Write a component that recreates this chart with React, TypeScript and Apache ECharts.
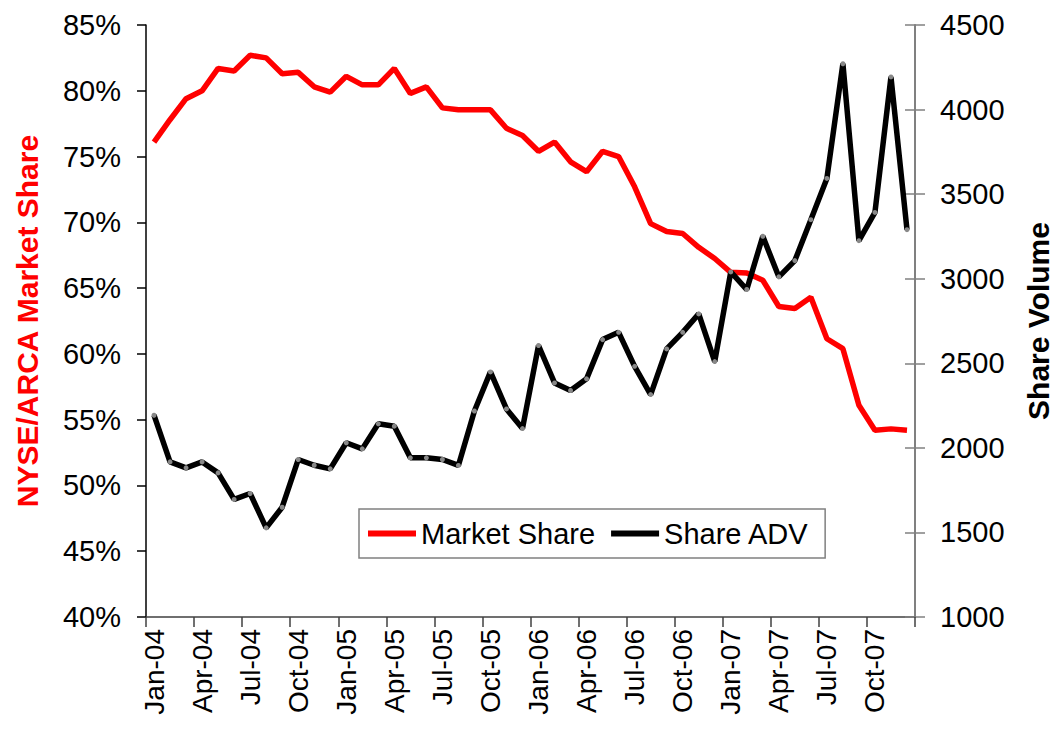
import React, { useEffect, useRef } from "react";
import * as echarts from "echarts";

const months: string[] = [
  "Jan-04", "Feb-04", "Mar-04", "Apr-04", "May-04", "Jun-04", "Jul-04", "Aug-04", "Sep-04", "Oct-04", "Nov-04", "Dec-04",
  "Jan-05", "Feb-05", "Mar-05", "Apr-05", "May-05", "Jun-05", "Jul-05", "Aug-05", "Sep-05", "Oct-05", "Nov-05", "Dec-05",
  "Jan-06", "Feb-06", "Mar-06", "Apr-06", "May-06", "Jun-06", "Jul-06", "Aug-06", "Sep-06", "Oct-06", "Nov-06", "Dec-06",
  "Jan-07", "Feb-07", "Mar-07", "Apr-07", "May-07", "Jun-07", "Jul-07", "Aug-07", "Sep-07", "Oct-07", "Nov-07", "Dec-07",
];

const marketShare: number[] = [
  76.1, 77.8, 79.4, 80.0, 81.7, 81.5, 82.7, 82.5, 81.3, 81.4, 80.3, 79.9,
  81.1, 80.45, 80.45, 81.7, 79.8, 80.3, 78.7, 78.55, 78.55, 78.55, 77.15, 76.6,
  75.4, 76.1, 74.6, 73.85, 75.4, 75.0, 72.7, 69.9, 69.3, 69.15, 68.1, 67.25,
  66.2, 66.15, 65.6, 63.6, 63.45, 64.3, 61.15, 60.4, 56.1, 54.2, 54.3, 54.2,
];

const shareADV: number[] = [
  2193, 1917, 1882, 1917, 1852, 1695, 1730, 1527, 1649, 1931, 1897, 1876,
  2030, 1994, 2142, 2128, 1941, 1941, 1931, 1896, 2218, 2449, 2230, 2114,
  2605, 2384, 2339, 2408, 2640, 2683, 2482, 2315, 2585, 2683, 2792, 2510,
  3040, 2936, 3251, 3011, 3107, 3349, 3593, 4271, 3225, 3392, 4193, 3290,
];

const seriesNames: string[] = ["Market Share", "Share ADV"];
const leftTitle = "NYSE/ARCA Market Share";
const rightTitle = "Share Volume";

const FONT = "'Liberation Sans', Arial, sans-serif";

export default function App() {
  const ref = useRef<HTMLDivElement>(null);

  useEffect(() => {
    if (!ref.current) return;
    const chart = echarts.init(ref.current, undefined, { renderer: "svg" });
    const gridLeft = 146;
    const gridTop = 25;
    const gridBottomY = 617;
    const midY = (gridTop + gridBottomY) / 2;
    const lineIcon = "path://M0,0 L48,0 L48,6 L0,6 Z";

    chart.setOption({
      animation: false,
      backgroundColor: "#ffffff",
      textStyle: { fontFamily: FONT },
      grid: { left: gridLeft, right: 139, top: gridTop, bottom: 732 - gridBottomY, containLabel: false },
      legend: {
        data: [
          { name: seriesNames[0], icon: lineIcon, itemStyle: { color: "#ff0000" } },
          { name: seriesNames[1], icon: lineIcon, itemStyle: { color: "#000000" } },
        ],
        left: 359,
        top: 509,
        orient: "horizontal",
        padding: [10, 16, 10, 9],
        itemGap: 16,
        itemWidth: 48,
        itemHeight: 6,
        borderColor: "#808080",
        borderWidth: 1.5,
        backgroundColor: "#ffffff",
        textStyle: { fontSize: 29, color: "#000", fontFamily: FONT },
      },
      xAxis: {
        type: "category",
        data: months,
        boundaryGap: true,
        axisLine: { show: true, lineStyle: { color: "#404040", width: 1.5 } },
        axisTick: { show: true, interval: 2, length: 10, inside: false, lineStyle: { color: "#404040", width: 1.5 } },
        axisLabel: { interval: 2, rotate: 90, fontSize: 28, color: "#000", margin: 12, fontFamily: FONT },
        splitLine: { show: false },
      },
      yAxis: [
        {
          type: "value",
          position: "left",
          min: 40,
          max: 85,
          interval: 5,
          axisLine: { show: true, lineStyle: { color: "#000", width: 1.5 } },
          axisTick: { show: true, length: 9, lineStyle: { color: "#000", width: 1.5 } },
          axisLabel: { formatter: "{value}%", fontSize: 29, color: "#000", margin: 25, fontFamily: FONT },
          splitLine: { show: false },
        },
        {
          type: "value",
          position: "right",
          min: 1000,
          max: 4500,
          interval: 500,
          axisLine: { show: true, lineStyle: { color: "#808080", width: 2 } },
          axisTick: { show: true, length: 10, lineStyle: { color: "#808080", width: 1.5 } },
          axisLabel: {
            formatter: (v: number) => String(v),
            fontSize: 29,
            color: "#000",
            margin: 25,
            fontFamily: FONT,
          },
          splitLine: { show: false },
        },
        {
          type: "value",
          position: "right",
          min: 1000,
          max: 4500,
          interval: 500,
          axisLine: { show: false },
          axisTick: { show: true, inside: true, length: 10, lineStyle: { color: "#808080", width: 1.5 } },
          axisLabel: { show: false },
          splitLine: { show: false },
        },
      ],
      series: [
        {
          name: seriesNames[0],
          type: "line",
          yAxisIndex: 0,
          data: marketShare,
          symbol: "none",
          lineStyle: { color: "#ff0000", width: 5.5 },
          itemStyle: { color: "#ff0000" },
          z: 2,
        },
        {
          name: seriesNames[1],
          type: "line",
          yAxisIndex: 1,
          data: shareADV,
          symbol: "circle",
          symbolSize: 5,
          showSymbol: true,
          lineStyle: { color: "#000000", width: 5.5 },
          itemStyle: { color: "#888888", borderWidth: 0 },
          z: 3,
        },
      ],
      graphic: [
        {
          type: "text",
          x: 27,
          y: midY,
          rotation: Math.PI / 2,
          style: {
            text: leftTitle,
            fill: "#ff0000",
            font: `bold 30px ${FONT}`,
            textAlign: "center",
            textVerticalAlign: "middle",
          },
        },
        {
          type: "text",
          x: 1038,
          y: midY,
          rotation: Math.PI / 2,
          style: {
            text: rightTitle,
            fill: "#000000",
            font: `bold 30px ${FONT}`,
            textAlign: "center",
            textVerticalAlign: "middle",
          },
        },
      ],
    });

    return () => {
      chart.dispose();
    };
  }, []);

  return (
    <div
      ref={ref}
      style={{ position: "fixed", left: 0, top: 0, width: 1054, height: 732, background: "#fff" }}
    />
  );
}
